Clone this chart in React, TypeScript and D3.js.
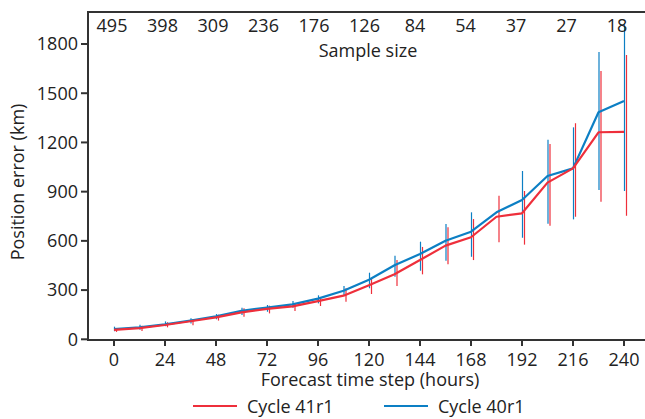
import React, { useEffect, useRef } from "react";
import * as d3 from "d3";

// forecast steps (hours)
const hours = [0, 12, 24, 36, 48, 60, 72, 84, 96, 108, 120, 132, 144, 156, 168, 180, 192, 204, 216, 228, 240];
const xTicks = [0, 24, 48, 72, 96, 120, 144, 168, 192, 216, 240];
const yTicks = [0, 300, 600, 900, 1200, 1500, 1800];
const sampleSize = ["495", "398", "309", "236", "176", "126", "84", "54", "37", "27", "18"];

// Cycle 41r1 (red)
const c41Mean = [58, 68, 87, 110, 134, 164, 185, 201, 233, 266, 329, 396, 483, 571, 622, 747, 768, 955, 1042, 1262, 1264];
const c41Low = [45, 51, 73, 85, 114, 138, 158, 172, 203, 229, 276, 325, 396, 457, 483, 591, 577, 692, 747, 839, 753];
const c41High = [67, 83, 104, 124, 150, 189, 205, 219, 256, 311, 372, 483, 563, 683, 733, 875, 904, 1191, 1317, 1635, 1733];

// Cycle 40r1 (blue) - no bar visible at 180h
const c40Mean = [62, 73, 91, 114, 140, 174, 193, 213, 248, 296, 363, 451, 520, 601, 656, 774, 849, 995, 1042, 1384, 1452];
const c40Low = [49, 58, 80, 96, 122, 148, 168, 193, 219, 264, 311, 382, 418, 479, 503, null, 619, 705, 731, 910, 904];
const c40High = [77, 89, 109, 128, 154, 193, 209, 233, 268, 325, 406, 510, 595, 703, 774, null, 1026, 1217, 1292, 1751, 1926];

const RED = "#ee2f3b";
const BLUE = "#0c7fc4";
const AXIS = "#333";
const FONT = "'Open Sans', sans-serif";
const FS = 18;

const App = () => {
  const svgRef = useRef(null);

  useEffect(() => {
    const svg = d3.select(svgRef.current);
    svg.selectAll("*").remove();

    const x = d3.scaleLinear().domain([0, 240]).range([114, 624]);
    const y = d3.scaleLinear().domain([0, 1800]).range([339.3, 44]);
    const left = 88;
    const right = 645;
    const top = 12;
    const bottom = 340;

    const series = [
      { name: "Cycle 40r1", color: BLUE, mean: c40Mean, lo: c40Low, hi: c40High, dx: 0.5 },
      { name: "Cycle 41r1", color: RED, mean: c41Mean, lo: c41Low, hi: c41High, dx: 2.5 },
    ];

    // error bars
    series.forEach((s) => {
      svg
        .append("g")
        .selectAll("line")
        .data(hours.map((h, i) => ({ h, lo: s.lo[i], hi: s.hi[i] })).filter((d) => d.lo != null))
        .enter()
        .append("line")
        .attr("x1", (d) => x(d.h) + s.dx)
        .attr("x2", (d) => x(d.h) + s.dx)
        .attr("y1", (d) => y(d.lo))
        .attr("y2", (d) => y(d.hi))
        .attr("stroke", s.color)
        .attr("stroke-width", 1.2);
    });

    // mean lines
    const line = d3
      .line<number>()
      .x((_, i) => x(hours[i]))
      .y((d) => y(d));
    series.forEach((s) => {
      svg
        .append("path")
        .attr("d", line(s.mean))
        .attr("fill", "none")
        .attr("stroke", s.color)
        .attr("stroke-width", 2.2)
        .attr("stroke-linejoin", "round");
    });

    // frame
    svg
      .append("path")
      .attr("d", `M${right},${top}H${left}V${bottom}H${right}`)
      .attr("fill", "none")
      .attr("stroke", AXIS)
      .attr("stroke-width", 2);

    // y axis
    const yAxis = svg.append("g").attr("transform", `translate(${left},0)`);
    yAxis
      .selectAll("line")
      .data(yTicks)
      .enter()
      .append("line")
      .attr("x1", -7)
      .attr("x2", 0)
      .attr("y1", (d) => y(d))
      .attr("y2", (d) => y(d))
      .attr("stroke", AXIS)
      .attr("stroke-width", 2);
    yAxis
      .selectAll("text")
      .data(yTicks)
      .enter()
      .append("text")
      .attr("x", -10)
      .attr("y", (d) => y(d))
      .attr("dy", "0.35em")
      .attr("text-anchor", "end")
      .attr("font-family", FONT)
      .attr("font-size", FS)
      .attr("fill", "#222")
      .text((d) => d);

    // x axis
    const xAxis = svg.append("g").attr("transform", `translate(0,${bottom})`);
    xAxis
      .selectAll("line")
      .data(xTicks)
      .enter()
      .append("line")
      .attr("x1", (d) => x(d))
      .attr("x2", (d) => x(d))
      .attr("y1", 0)
      .attr("y2", 6)
      .attr("stroke", AXIS)
      .attr("stroke-width", 2);
    xAxis
      .selectAll("text")
      .data(xTicks)
      .enter()
      .append("text")
      .attr("x", (d) => x(d))
      .attr("y", 26)
      .attr("text-anchor", "middle")
      .attr("font-family", FONT)
      .attr("font-size", FS)
      .attr("fill", "#222")
      .text((d) => d);

    // sample size row
    const sx = d3.scalePoint().domain(sampleSize.map((d, i) => i + "")).range([112, 617]);
    svg
      .append("g")
      .selectAll("text")
      .data(sampleSize)
      .enter()
      .append("text")
      .attr("x", (_, i) => sx(i + ""))
      .attr("y", 32)
      .attr("text-anchor", "middle")
      .attr("font-family", FONT)
      .attr("font-size", FS)
      .attr("fill", "#222")
      .text((d) => d);

    const label = (txt, tx, ty, anchor = "middle", rot = 0) =>
      svg
        .append("text")
        .attr("transform", `translate(${tx},${ty}) rotate(${rot})`)
        .attr("text-anchor", anchor)
        .attr("font-family", FONT)
        .attr("font-size", FS)
        .attr("fill", "#222")
        .text(txt);

    label("Sample size", 368, 57);
    label("Forecast time step (hours)", 370, 386);
    label("Position error (km)", 24, 182, "middle", -90);

    // legend
    const legend = [
      { name: "Cycle 41r1", color: RED, x0: 193 },
      { name: "Cycle 40r1", color: BLUE, x0: 384 },
    ];
    legend.forEach((l) => {
      svg
        .append("line")
        .attr("x1", l.x0)
        .attr("x2", l.x0 + 44)
        .attr("y1", 406)
        .attr("y2", 406)
        .attr("stroke", l.color)
        .attr("stroke-width", 2.2);
      label(l.name, l.x0 + 54, 413, "start");
    });
  }, []);

  return (
    <svg
      ref={svgRef}
      width={645}
      height={419}
      style={{ position: "absolute", left: 0, top: 0, background: "#fff" }}
    ></svg>
  );
};

export default App;
